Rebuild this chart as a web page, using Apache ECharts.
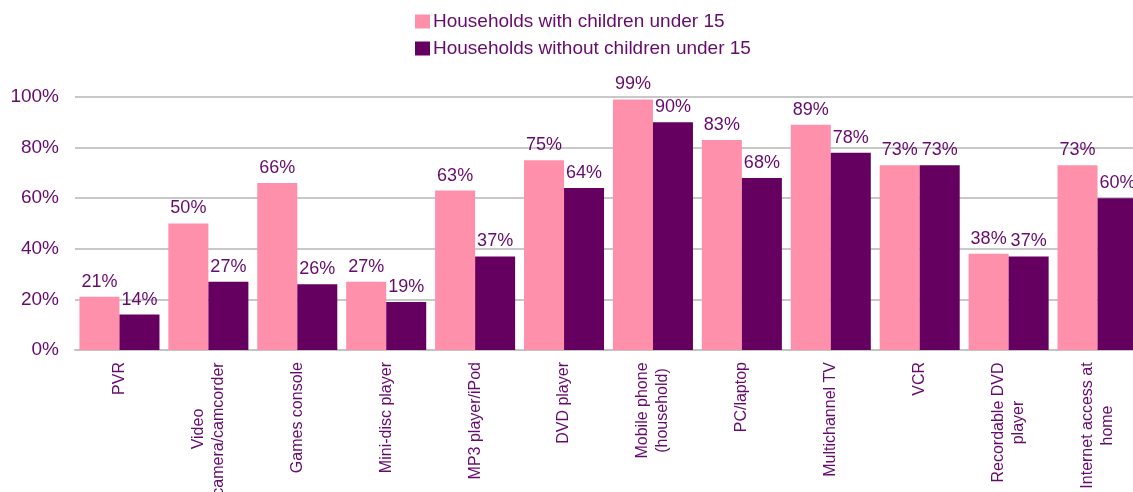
<!DOCTYPE html>
<html>
<head>
<meta charset="utf-8">
<style>
  html, body { margin: 0; padding: 0; background: #ffffff; }
  #chart { width: 1133px; height: 492px; }
</style>
<script src="https://cdn.jsdelivr.net/npm/echarts@6/dist/echarts.min.js"></script>
</head>
<body>
<div id="chart"></div>
<script>
// Device ownership by household type
const categories = [
  'PVR',
  'Video\ncamera/camcorder',
  'Games console',
  'Mini-disc player',
  'MP3 player/iPod',
  'DVD player',
  'Mobile phone\n(household)',
  'PC/laptop',
  'Multichannel TV',
  'VCR',
  'Recordable DVD\nplayer',
  'Internet access at\nhome'
];
const seriesNames = ['Households with children under 15', 'Households without children under 15'];
const withChildren = [21, 50, 66, 27, 63, 75, 99, 83, 89, 73, 38, 73];
const withoutChildren = [14, 27, 26, 19, 37, 64, 90, 68, 78, 73, 37, 60];
const yTicks = [0, 20, 40, 60, 80, 100];

const FONT = '"Liberation Sans", Arial, sans-serif';
const TEXT = '#660a6e';
const X_FONT_SIZE = 16;

// Multi-line category labels: lines centred on each other, block anchored at the axis
const measureCtx = document.createElement('canvas').getContext('2d');
measureCtx.font = X_FONT_SIZE + 'px ' + FONT;
const richStyles = {};
categories.forEach((c, i) => {
  const lines = c.split('\n');
  if (lines.length > 1) {
    const w = Math.ceil(Math.max(...lines.map(l => measureCtx.measureText(l).width)));
    richStyles['m' + i] = { width: w, align: 'center', fontSize: X_FONT_SIZE, fontFamily: FONT, color: TEXT, lineHeight: 20 };
  }
});

const valueLabel = { show: true, position: 'top', distance: 6, formatter: '{c}%', fontSize: 18, fontFamily: FONT, color: TEXT };

const chart = echarts.init(document.getElementById('chart'));
chart.setOption({
  animation: false,
  legend: {
    orient: 'vertical',
    left: 410,
    top: 7,
    itemWidth: 15,
    itemHeight: 14,
    itemGap: 8,
    icon: 'rect',
    textStyle: { fontSize: 19, fontFamily: FONT, color: TEXT, padding: [0, 0, 0, -2] },
    data: seriesNames
  },
  grid: { left: 75, top: 97, width: 1067, height: 253, outerBoundsMode: 'none', containLabel: false },
  xAxis: {
    type: 'category',
    data: categories,
    axisLine: { lineStyle: { color: '#c4c4c4', width: 2 } },
    axisTick: { lineStyle: { color: '#c4c4c4', width: 2 }, length: 5 },
    axisLabel: {
      interval: 0,
      rotate: 90,
      margin: 12,
      fontSize: X_FONT_SIZE,
      fontFamily: FONT,
      color: TEXT,
      lineHeight: 20,
      formatter: function (value) {
        const i = categories.indexOf(value);
        if (richStyles['m' + i]) {
          return value.split('\n').map(l => '{m' + i + '|' + l + '}').join('\n');
        }
        return value;
      },
      rich: richStyles
    }
  },
  yAxis: {
    type: 'value',
    min: yTicks[0],
    max: yTicks[yTicks.length - 1],
    interval: yTicks[1] - yTicks[0],
    axisLine: { show: false },
    axisTick: { show: false },
    splitLine: { lineStyle: { color: '#c8c8c8', width: 2 } },
    axisLabel: {
      margin: 16,
      fontSize: 19,
      fontFamily: FONT,
      color: TEXT,
      formatter: '{value}%'
    }
  },
  series: [
    {
      name: seriesNames[0],
      type: 'bar',
      data: withChildren,
      barGap: '0%',
      barCategoryGap: '10%',
      itemStyle: { color: '#ff90ab' },
      label: valueLabel
    },
    {
      name: seriesNames[1],
      type: 'bar',
      data: withoutChildren,
      barGap: '0%',
      barCategoryGap: '10%',
      itemStyle: { color: '#660060' },
      label: valueLabel
    }
  ]
});
</script>
</body>
</html>
